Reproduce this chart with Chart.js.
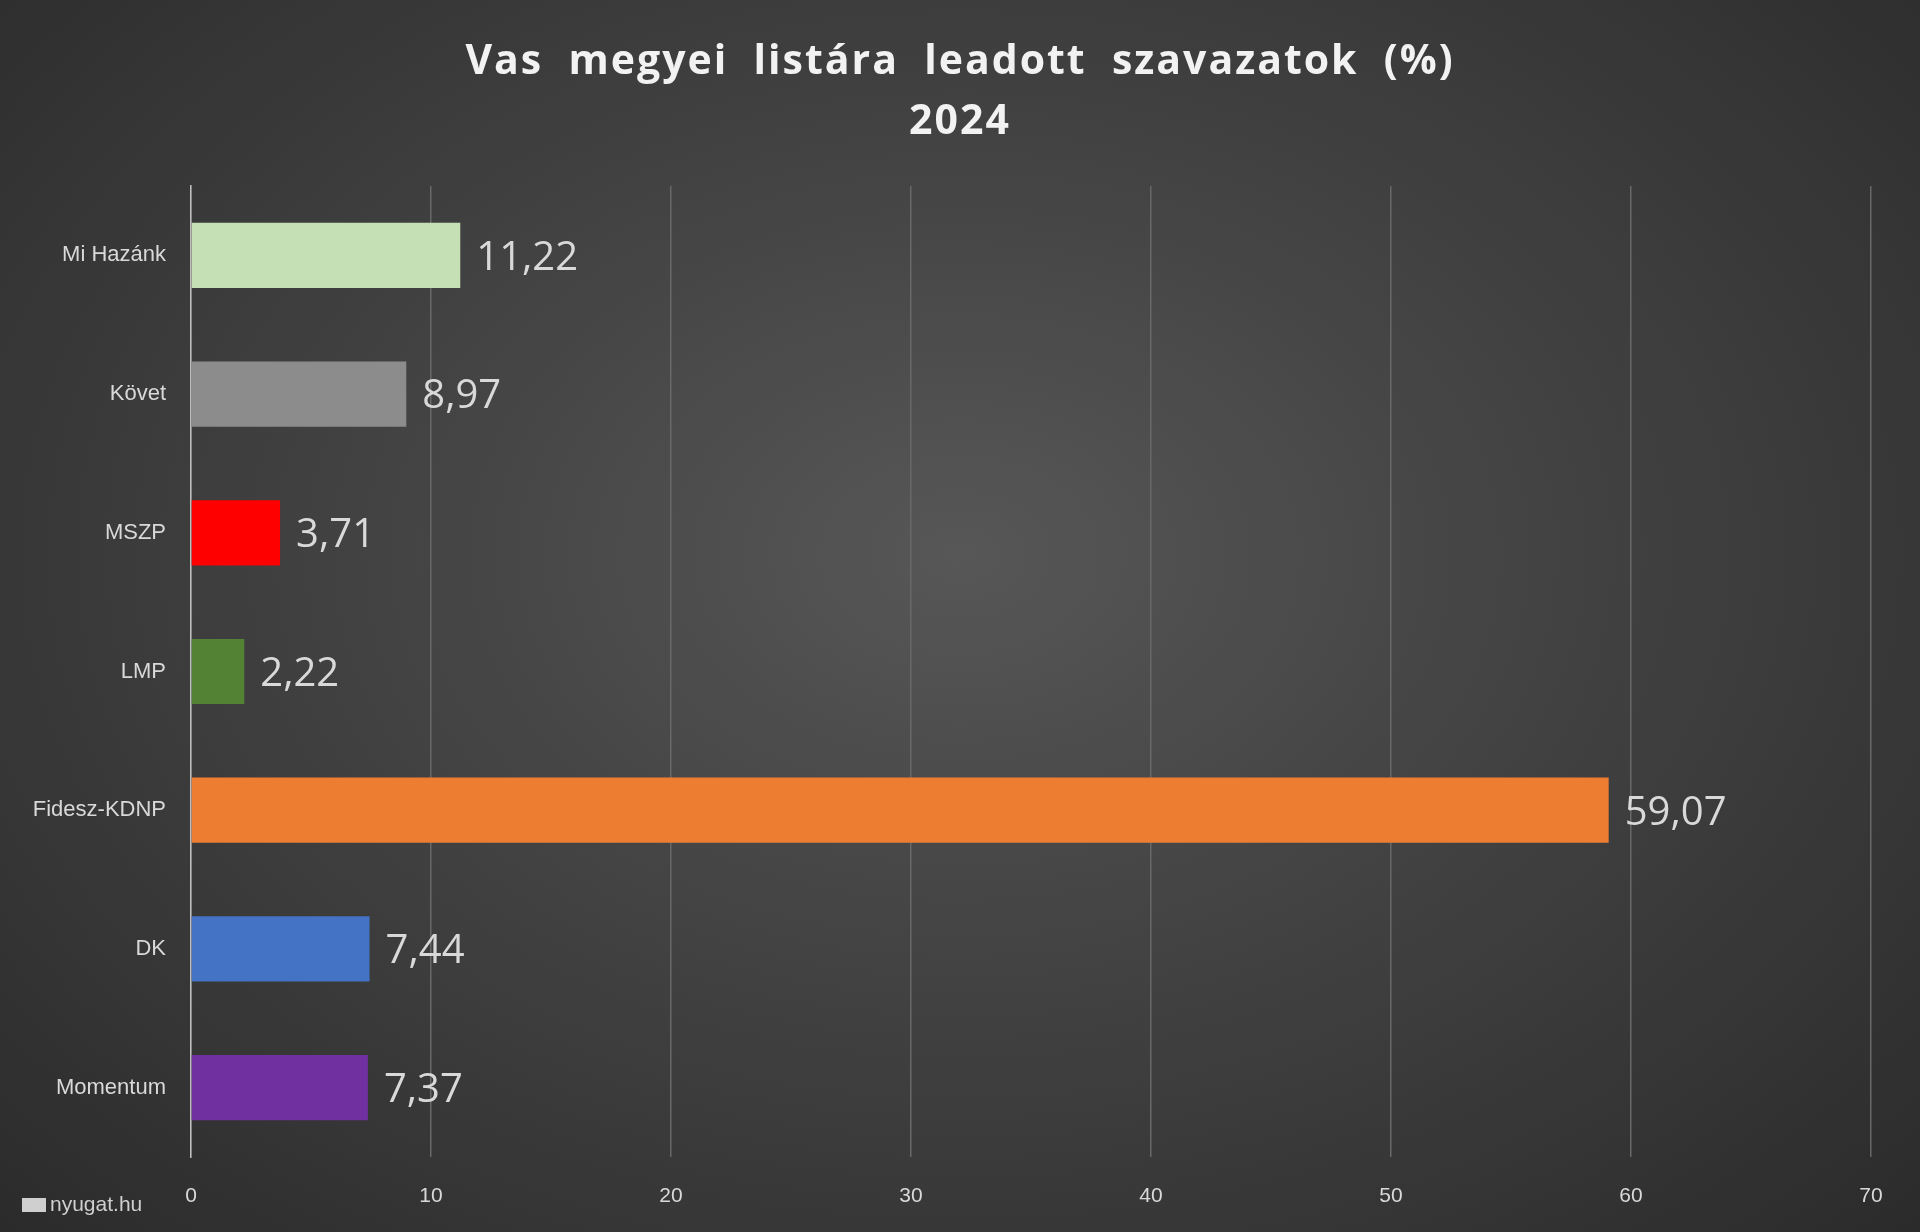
<!DOCTYPE html>
<html>
<head>
<meta charset="utf-8">
<script src="https://cdn.jsdelivr.net/npm/chart.js@4"></script>
<style>
  html, body { margin: 0; padding: 0; }
  body {
    width: 1920px; height: 1232px; overflow: hidden;
    background: radial-gradient(ellipse at 50% 45%, #575757 0%, #444444 40%, #2b2b2b 100%);
  }
  #chart { display: block; }
</style>
</head>
<body>
<canvas id="chart" width="1920" height="1232"></canvas>
<script>
// adatok
const parties = ['Mi Hazánk', 'Követ', 'MSZP', 'LMP', 'Fidesz-KDNP', 'DK', 'Momentum'];
const votes = [11.22, 8.97, 3.71, 2.22, 59.07, 7.44, 7.37];
const barColors = ['#c5e0b4', '#8c8c8c', '#ff0000', '#548235', '#ed7d31', '#4472c4', '#7030a0'];
const titleLines = ['Vas  megyei  listára  leadott  szavazatok  (%)', '2024'];

const overlay = {
  id: 'overlay',
  afterDatasetsDraw(chart) {
    const ctx = chart.ctx;
    const meta = chart.getDatasetMeta(0);
    ctx.save();
    ctx.fillStyle = '#d9d9d9';
    ctx.font = '40px "Open Sans", sans-serif';
    ctx.textBaseline = 'middle';
    ctx.textAlign = 'left';
    meta.data.forEach((bar, i) => {
      ctx.fillText(votes[i].toFixed(2).replace('.', ','), bar.x + 16, bar.y + 3);
    });
    // cím
    ctx.fillStyle = '#f2f2f2';
    ctx.font = 'bold 41px "Open Sans", sans-serif';
    ctx.letterSpacing = '2px';
    ctx.textAlign = 'center';
    ctx.fillText(titleLines[0], 960, 62);
    ctx.fillText(titleLines[1], 960, 122);
    ctx.letterSpacing = '0px';
    // vízjel
    ctx.fillStyle = '#cfcfcf';
    ctx.font = '21px "Liberation Sans", sans-serif';
    ctx.textAlign = 'left';
    ctx.fillText('nyugat.hu', 50, 1205);
    ctx.fillRect(22, 1198, 24, 14);
    ctx.restore();
  }
};

new Chart(document.getElementById('chart'), {
  type: 'bar',
  data: {
    labels: parties,
    datasets: [{
      data: votes,
      backgroundColor: barColors,
      barPercentage: 0.47,
      categoryPercentage: 1
    }]
  },
  options: {
    indexAxis: 'y',
    responsive: false,
    animation: false,
    layout: { padding: { top: 186, right: 49, left: 0, bottom: 0 } },
    plugins: { legend: { display: false }, tooltip: { enabled: false } },
    scales: {
      x: {
        min: 0, max: 70,
        ticks: { stepSize: 10, color: '#d9d9d9', font: { size: 21, family: 'Liberation Sans' }, padding: 27 },
        grid: { color: '#686868', lineWidth: 1.5, drawTicks: false },
        border: { display: false },
        afterFit(axis) { axis.height = 75; }
      },
      y: {
        ticks: { color: '#d9d9d9', font: { size: 22, family: 'Liberation Sans' }, padding: 17 },
        grid: { display: false },
        border: { color: '#bfbfbf', width: 1.5 },
        afterFit(axis) { axis.width = 191; }
      }
    }
  },
  plugins: [overlay]
});
</script>
</body>
</html>
